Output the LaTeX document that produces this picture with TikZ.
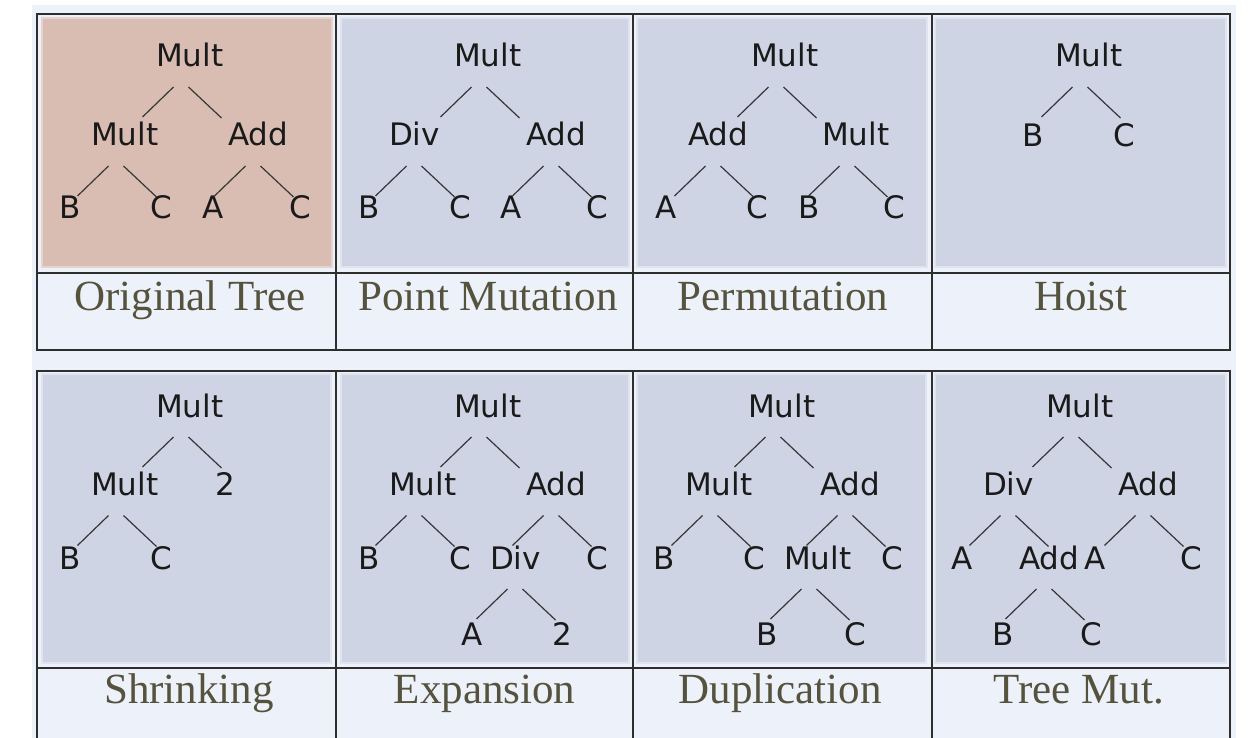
\documentclass[tikz,border=0pt]{standalone}
\usepackage{fontspec}
\setmainfont{Liberation Serif}
\newfontfamily\treefont{DejaVu Sans}
\usetikzlibrary{calc}
\definecolor{bgblue}{HTML}{EDF1FA}
\definecolor{panelblue}{HTML}{CFD4E4}
\definecolor{panelline}{HTML}{E0E4EE}
\definecolor{panelpink}{HTML}{D9BDB3}
\definecolor{pinkline}{HTML}{E6D3CC}
\definecolor{captext}{HTML}{55533D}
\definecolor{rulecol}{HTML}{2E2E2E}
\definecolor{edgecol}{HTML}{363636}
\definecolor{labelcol}{HTML}{1A1A1A}
\tikzset{
  lbl/.style={anchor=base west, inner sep=0pt, outer sep=0pt,
    font=\treefont\fontsize{15.5}{15.5}\selectfont, text=labelcol},
  treeedge/.style={draw=edgecol, line width=0.6pt},
  captxt/.style={anchor=base, inner sep=0pt,
    font=\fontsize{21.5}{21.5}\selectfont, text=captext},
  bluepanel/.style={fill=panelblue, draw=panelline, line width=0.9pt},
  pinkpanel/.style={fill=panelpink, draw=pinkline, line width=0.9pt},
  gridline/.style={draw=rulecol, line width=0.75pt},
}
% edges of a parent #1 to its left child #2 and right child #3
\newcommand\kids[3]{%
  \draw[treeedge] ($(#1.base west)+(17.5,20)$) -- ($(#1.base west)+(-13.5,50)$);
  \draw[treeedge] ($(#1.base west)+(32.5,20)$) -- ($(#1.base west)+(65.5,51)$);}
\begin{document}
\begin{tikzpicture}[x=0.5pt,y=-0.5pt]
\useasboundingbox (0,0) rectangle (1255,738);
\fill[white] (0,0) rectangle (1255,738);
\fill[bgblue] (32,5) rectangle (1236,738);

% ---------- panels ----------
\filldraw[pinkpanel] (42,18) rectangle (332,267);
\filldraw[bluepanel] (341,18) rectangle (629,267);
\filldraw[bluepanel] (637,18) rectangle (927,267);
\filldraw[bluepanel] (935,18) rectangle (1226,267);
\filldraw[bluepanel] (42,374) rectangle (331,663);
\filldraw[bluepanel] (341,374) rectangle (629,663);
\filldraw[bluepanel] (637,374) rectangle (926,663);
\filldraw[bluepanel] (935,374) rectangle (1226,663);

% ---------- table rules ----------
\draw[gridline] (37,14) rectangle (1230,350);
\draw[gridline] (37,273) -- (1230,273);
\foreach \x in {336,633,932} \draw[gridline] (\x,14) -- (\x,350);
\draw[gridline] (37,738) -- (37,371) -- (1230,371) -- (1230,738);
\draw[gridline] (37,668) -- (1230,668);
\foreach \x in {336,633,932} \draw[gridline] (\x,371) -- (\x,738);

% ---------- captions ----------
\node[captxt] (cap1) at (190,310) {Original Tree};
\node[captxt] (cap2) at (488,310) {Point Mutation};
\node[captxt] (cap3) at (783,310) {Permutation};
\node[captxt] (cap4) at (1081,310) {Hoist};
\node[captxt] (cap5) at (189,703) {Shrinking};
\node[captxt] (cap6) at (484.5,703) {Expansion};
\node[captxt] (cap7) at (780,703) {Duplication};
\node[captxt] (cap8) at (1079,703) {Tree Mut.};

% ---------- Original Tree ----------
\node[lbl] (oR) at (156,67) {Mult};
\node[lbl] (oL) at (91,146) {Mult};
\node[lbl] (oRt) at (228,146) {Add};
\node[lbl] (oLL) at (60,219) {B};
\node[lbl] (oLR) at (150,219) {C};
\node[lbl] (oRL) at (202,219) {A};
\node[lbl] (oRR) at (289,219) {C};
\kids{oR}{oL}{oRt}
\kids{oL}{oLL}{oLR}
\kids{oRt}{oRL}{oRR}

% ---------- Point Mutation ----------
\node[lbl] (pR) at (454,67) {Mult};
\node[lbl] (pL) at (389,146) {Div};
\node[lbl] (pRt) at (526,146) {Add};
\node[lbl] (pLL) at (358,219) {B};
\node[lbl] (pLR) at (449,219) {C};
\node[lbl] (pRL) at (500,219) {A};
\node[lbl] (pRR) at (586,219) {C};
\kids{pR}{pL}{pRt}
\kids{pL}{pLL}{pLR}
\kids{pRt}{pRL}{pRR}

% ---------- Permutation ----------
\node[lbl] (mR) at (751,67) {Mult};
\node[lbl] (mL) at (688,146) {Add};
\node[lbl] (mRt) at (822,146) {Mult};
\node[lbl] (mLL) at (655,219) {A};
\node[lbl] (mLR) at (746,219) {C};
\node[lbl] (mRL) at (798,219) {B};
\node[lbl] (mRR) at (883,219) {C};
\kids{mR}{mL}{mRt}
\kids{mL}{mLL}{mLR}
\kids{mRt}{mRL}{mRR}

% ---------- Hoist ----------
\node[lbl] (hR) at (1055,67) {Mult};
\node[lbl] (hL) at (1022,146.5) {B};
\node[lbl] (hRt) at (1113,146.5) {C};
\kids{hR}{hL}{hRt}

% ---------- Shrinking ----------
\node[lbl] (sR) at (156,417) {Mult};
\node[lbl] (sL) at (91,495.5) {Mult};
\node[lbl] (sRt) at (215,495.5) {2};
\node[lbl] (sLL) at (60,569) {B};
\node[lbl] (sLR) at (150,569) {C};
\kids{sR}{sL}{sRt}
\kids{sL}{sLL}{sLR}

% ---------- Expansion ----------
\node[lbl] (eR) at (454,417) {Mult};
\node[lbl] (eL) at (389,495.5) {Mult};
\node[lbl] (eRt) at (526,495.5) {Add};
\node[lbl] (eLL) at (358,569) {B};
\node[lbl] (eLR) at (449,569) {C};
\node[lbl] (eRL) at (490,569) {Div};
\node[lbl] (eRR) at (586,569) {C};
\node[lbl] (eRLL) at (461,645) {A};
\node[lbl] (eRLR) at (552,645) {2};
\kids{eR}{eL}{eRt}
\kids{eL}{eLL}{eLR}
\kids{eRt}{eRL}{eRR}
\kids{eRL}{eRLL}{eRLR}

% ---------- Duplication ----------
\node[lbl] (dR) at (748,417) {Mult};
\node[lbl] (dL) at (685,495.5) {Mult};
\node[lbl] (dRt) at (820,495.5) {Add};
\node[lbl] (dLL) at (653,569) {B};
\node[lbl] (dLR) at (743,569) {C};
\node[lbl] (dRL) at (784,569) {Mult};
\node[lbl] (dRR) at (881,569) {C};
\node[lbl] (dRLL) at (756,645) {B};
\node[lbl] (dRLR) at (844,645) {C};
\kids{dR}{dL}{dRt}
\kids{dL}{dLL}{dLR}
\kids{dRt}{dRL}{dRR}
\kids{dRL}{dRLL}{dRLR}

% ---------- Tree Mut. ----------
\node[lbl] (tR) at (1046,417) {Mult};
\node[lbl] (tL) at (983,495.5) {Div};
\node[lbl] (tRt) at (1118,495.5) {Add};
\node[lbl] (tLL) at (951,569) {A};
\node[lbl] (tLR) at (1019,569) {Add};
\node[lbl] (tRL) at (1084,569) {A};
\node[lbl] (tRR) at (1180,569) {C};
\node[lbl] (tLRL) at (992,645) {B};
\node[lbl] (tLRR) at (1080,645) {C};
\kids{tR}{tL}{tRt}
\kids{tL}{tLL}{tLR}
\kids{tRt}{tRL}{tRR}
\kids{tLR}{tLRL}{tLRR}
\end{tikzpicture}
\end{document}
